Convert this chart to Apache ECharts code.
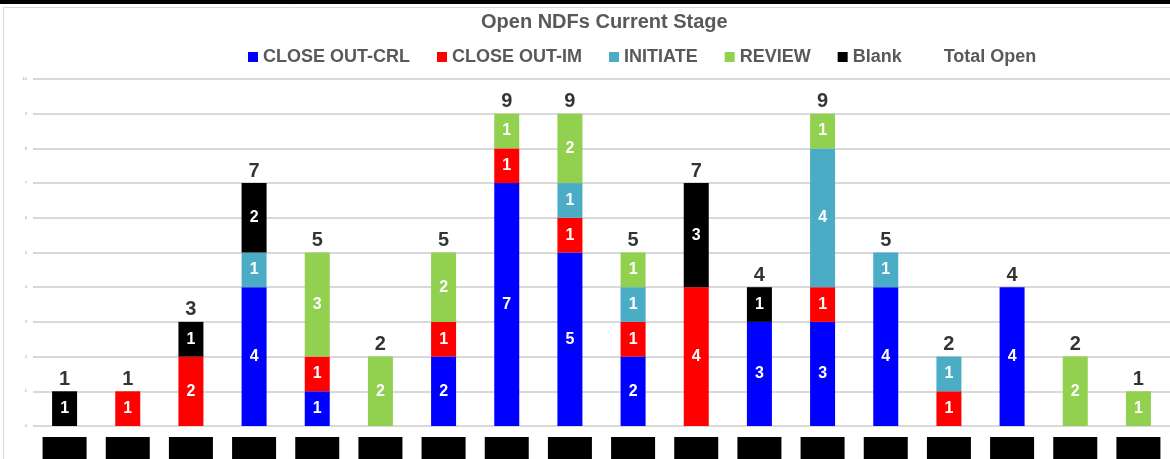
<!DOCTYPE html>
<html>
<head>
<meta charset="utf-8">
<script src="https://cdn.jsdelivr.net/npm/echarts@6/dist/echarts.min.js"></script>
<style>
  html, body { margin: 0; padding: 0; background: #fff; }
  #chart { width: 1170px; height: 459px; }
</style>
</head>
<body>
<div id="chart"></div>
<script>
// category names are blacked out in the source, placeholders here
const categories = ['A', 'B', 'C', 'D', 'E', 'F', 'G', 'H', 'I', 'J', 'K', 'L', 'M', 'N', 'O', 'P', 'Q', 'R'];
const closeOutCrl = [null, null, null, 4, 1, null, 2, 7, 5, 2, null, 3, 3, 4, null, 4, null, null];
const closeOutIm  = [null, 1, 2, null, 1, null, 1, 1, 1, 1, 4, null, 1, null, 1, null, null, null];
const initiate    = [null, null, null, 1, null, null, null, null, 1, 1, null, null, 4, 1, 1, null, null, null];
const review      = [null, null, null, null, 3, 2, 2, 1, 2, 1, null, null, 1, null, null, null, 2, 1];
const blank       = [1, null, 1, 2, null, null, null, null, null, null, 3, 1, null, null, null, null, null, null];
const totalOpen   = [1, 1, 3, 7, 5, 2, 5, 9, 9, 5, 7, 4, 9, 5, 2, 4, 2, 1];
const yTicks = [0, 10, 1];

const colors = ['#0000ff', '#ff0000', '#4bacc6', '#92d050', '#000000'];
const font = 'Liberation Sans, Arial, sans-serif';

function stackSeries(name, data, color) {
  return {
    name: name,
    type: 'bar',
    stack: 'stage',
    barWidth: 25,
    data: data,
    itemStyle: { color: color },
    label: {
      show: true,
      position: 'inside',
      color: '#fff',
      fontWeight: 'bold',
      fontSize: 16,
      fontFamily: font
    }
  };
}

var myChart = echarts.init(document.getElementById('chart'));
var option = {
  animation: false,
  color: colors,
  title: {
    text: 'Open NDFs Current Stage',
    left: 476,
    top: 7,
    textStyle: { color: '#595959', fontSize: 20, fontWeight: 'bold', fontFamily: font }
  },
  legend: {
    left: 243,
    top: 43,
    itemWidth: 10,
    itemHeight: 10,
    itemGap: 27,
    textStyle: { color: '#595959', fontSize: 18, fontWeight: 'bold', fontFamily: font },
    data: [
      { name: 'CLOSE OUT-CRL', icon: 'rect' },
      { name: 'CLOSE OUT-IM', icon: 'rect' },
      { name: 'INITIATE', icon: 'rect' },
      { name: 'REVIEW', icon: 'rect' },
      { name: 'Blank', icon: 'rect' },
      { name: 'Total Open', icon: 'none' }
    ]
  },
  grid: { left: 33, right: -3, top: 79, bottom: 33 },
  xAxis: {
    type: 'category',
    data: categories,
    axisLine: { show: false },
    axisTick: { show: false },
    axisLabel: {
      margin: 11,
      color: '#000',
      backgroundColor: '#000',
      width: 44,
      height: 22,
      fontSize: 10
    }
  },
  yAxis: {
    type: 'value',
    min: yTicks[0],
    max: yTicks[1],
    interval: yTicks[2],
    axisLine: { show: false },
    axisTick: { show: false },
    axisLabel: { fontSize: 4, color: '#999', margin: 6 },
    splitLine: { lineStyle: { color: '#d9d9d9', width: 2 } }
  },
  series: [
    stackSeries('CLOSE OUT-CRL', closeOutCrl, colors[0]),
    stackSeries('CLOSE OUT-IM', closeOutIm, colors[1]),
    stackSeries('INITIATE', initiate, colors[2]),
    stackSeries('REVIEW', review, colors[3]),
    stackSeries('Blank', blank, colors[4]),
    {
      name: 'Total Open',
      type: 'scatter',
      symbolSize: 0.1,
      data: totalOpen,
      itemStyle: { color: 'transparent' },
      label: {
        show: true,
        position: 'top',
        distance: 2,
        color: '#000',
        fontWeight: 'bold',
        fontSize: 20,
        fontFamily: font
      }
    }
  ],
  graphic: [
    { type: 'rect', left: 0, top: 0, shape: { width: 1170, height: 4 }, style: { fill: '#000' }, z: 10 },
    { type: 'rect', left: 1, top: 5, shape: { width: 1180, height: 470 }, style: { fill: 'none', stroke: '#d9d9d9', lineWidth: 1 }, z: 10 }
  ]
};
option && myChart.setOption(option);
</script>
</body>
</html>
